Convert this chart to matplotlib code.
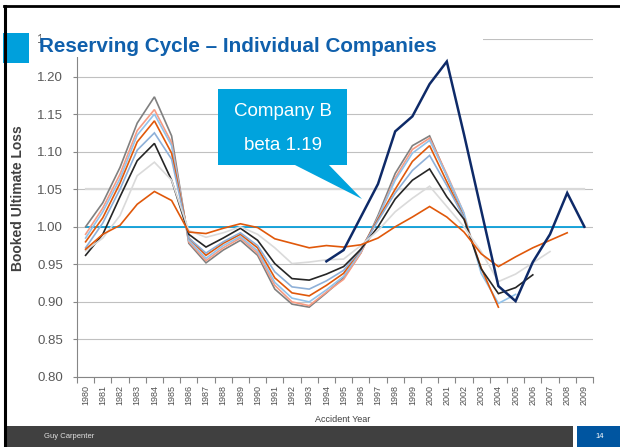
import matplotlib
matplotlib.use("Agg")
import numpy as np
import matplotlib.pyplot as plt
from matplotlib.patches import Rectangle, Polygon

years = list(range(1980, 2010))

# booked ultimate loss by accident year, one list per company (starting 1980 unless noted)
gray = [1.000, 1.032, 1.079, 1.138, 1.173, 1.121, 0.978, 0.952, 0.969, 0.982,
        0.962, 0.917, 0.897, 0.893, 0.912, 0.932, 0.965, 1.015, 1.071, 1.108,
        1.121, 1.068, 1.015]
salmon = [0.990, 1.025, 1.070, 1.128, 1.156, 1.112, 0.980, 0.955, 0.972, 0.985,
          0.965, 0.922, 0.900, 0.895, 0.913, 0.930, 0.965, 1.012, 1.065, 1.103,
          1.118, 1.070, 1.018]
light_blue = [0.985, 1.020, 1.064, 1.122, 1.150, 1.108, 0.982, 0.958, 0.975, 0.987,
              0.968, 0.926, 0.905, 0.900, 0.916, 0.934, 0.967, 1.012, 1.062, 1.098,
              1.115, 1.068, 1.018, 0.938, 0.898, 0.910]
orange = [0.980, 1.012, 1.058, 1.113, 1.141, 1.098, 0.985, 0.962, 0.978, 0.990,
          0.972, 0.932, 0.912, 0.908, 0.922, 0.938, 0.970, 1.010, 1.050, 1.087,
          1.108, 1.060, 1.012, 0.945, 0.893]
steel = [0.972, 1.005, 1.050, 1.102, 1.125, 1.090, 0.985, 0.965, 0.980, 0.992,
         0.975, 0.940, 0.920, 0.917, 0.928, 0.942, 0.970, 1.008, 1.045, 1.075,
         1.095, 1.055, 1.012]
black = [0.962, 0.990, 1.040, 1.088, 1.111, 1.062, 0.990, 0.973, 0.985, 0.998,
         0.982, 0.951, 0.931, 0.929, 0.937, 0.947, 0.970, 1.000, 1.037, 1.062,
         1.077, 1.040, 1.010, 0.944, 0.911, 0.919, 0.936]
light_gray = [0.968, 0.985, 1.015, 1.068, 1.086, 1.062, 0.995, 0.986, 0.992, 1.000,
              0.990, 0.972, 0.951, 0.953, 0.956, 0.957, 0.975, 0.995, 1.020, 1.038,
              1.054, 1.027, 1.000, 0.967, 0.927, 0.937, 0.952, 0.967]
orange_low = [0.970, 0.990, 1.002, 1.030, 1.047, 1.035, 0.993, 0.991, 0.998, 1.004,
              0.999, 0.984, 0.978, 0.972, 0.975, 0.973, 0.976, 0.985, 1.000, 1.013,
              1.027, 1.013, 0.993, 0.964, 0.947, 0.960, 0.972, 0.982, 0.992]
# Company B, 1994-2009
company_b = [0.954, 0.969, 1.013, 1.057, 1.127, 1.147, 1.190, 1.220, 1.123, 1.022,
             0.921, 0.901, 0.953, 0.990, 1.045, 1.000]
company_b_start = 1994

baseline = [1.00] * len(years)
upper_ref = [1.05] * len(years)

yticks = [0.80, 0.85, 0.90, 0.95, 1.00, 1.05, 1.10, 1.15, 1.20, 1.25]

plt.rcParams["font.family"] = ["Liberation Sans", "DejaVu Sans"]

W, H = 620, 447
fig = plt.figure(figsize=(W / 100, H / 100), dpi=100)
fig.patch.set_facecolor("white")
ax = fig.add_axes([77 / W, 1 - 377 / H, 516 / W, 338 / H])

x = np.arange(len(years))


def plot_series(vals, color, lw=1.2, start=1980, z=2):
    xs = np.arange(len(vals)) + (start - 1980)
    ax.plot(xs, vals, color=color, lw=lw, zorder=z, solid_joinstyle="miter")


plot_series(upper_ref, "#D9D9D9", lw=1.6, z=1.5)
plot_series(baseline, "#0A9ED9", lw=1.3, z=1.6)
plot_series(gray, "#808080")
plot_series(salmon, "#F79B82")
plot_series(light_blue, "#92C2EA")
plot_series(orange, "#E0580A")
plot_series(steel, "#8EB0D8")
plot_series(black, "#262626")
plot_series(light_gray, "#DADADA")
plot_series(orange_low, "#E0580A")
plot_series(company_b, "#0E2A68", lw=1.8, start=company_b_start, z=3)

ax.set_xlim(-0.5, len(years) - 0.5)
ax.set_ylim(0.80, 1.25)
ax.set_yticks(yticks)
ax.set_yticklabels(["%.2f" % v for v in yticks])
ax.set_xticks(x)
ax.set_xticklabels([str(y) for y in years], rotation=90)
ax.set_xticks(np.arange(len(years) + 1) - 0.5, minor=True)
ax.tick_params(axis="x", which="major", length=0, pad=6, labelsize=6.5, labelcolor="#505050")
ax.tick_params(axis="x", which="minor", length=4, color="#868686", width=0.8)
ax.tick_params(axis="y", length=3, color="#868686", width=0.8, pad=7, labelsize=9.5,
               labelcolor="#595959")
ax.grid(axis="y", color="#C0C0C0", lw=0.8, zorder=0)
ax.set_axisbelow(True)
for side in ["top", "right"]:
    ax.spines[side].set_visible(False)
for side in ["left", "bottom"]:
    ax.spines[side].set_color("#868686")
    ax.spines[side].set_linewidth(0.8)

fig.text(18 / W, 1 - 198 / H, "Booked Ultimate Loss", rotation=90, ha="center", va="center",
         fontsize=10, fontweight="bold", color="#404040")
fig.text(343 / W, 1 - 419 / H, "Accident Year", ha="center", va="center",
         fontsize=6.5, color="#404040")

# slide decorations in pixel coordinates
ov = fig.add_axes([0, 0, 1, 1], zorder=10)
ov.set_xlim(0, W)
ov.set_ylim(H, 0)
ov.axis("off")

ov.add_patch(Rectangle((41, 18), 442, 39, facecolor="white", edgecolor="none"))
ov.add_patch(Rectangle((3, 33), 26, 30, facecolor="#00A0DC", edgecolor="none"))
ov.text(39, 52, "Reserving Cycle \u2013 Individual Companies", fontsize=14.9,
        fontweight="bold", color="#1060AC", ha="left", va="baseline")

# callout
callout = "#00A3DD"
ov.add_patch(Rectangle((218, 89), 129, 76, facecolor=callout, edgecolor="none"))
ov.add_patch(Polygon([(293, 164), (328, 164), (362, 199)], closed=True,
                     facecolor=callout, edgecolor="none"))
ov.text(282.5, 111, "Company B", fontsize=13.5, color="white", ha="center", va="center")
ov.text(282.5, 146, "beta 1.19", fontsize=13.5, color="white", ha="center", va="center")

# frame and footer
ov.plot([4, W], [6, 6], color="black", lw=2)
ov.plot([5, 5], [6, H], color="black", lw=2.2)
ov.add_patch(Rectangle((6, 426), 567, 21, facecolor="#404040", edgecolor="none"))
ov.add_patch(Rectangle((577, 426), 43, 21, facecolor="#0055A0", edgecolor="none"))
ov.text(44, 437, "Guy Carpenter", fontsize=5.5, color="#E0E0E0", ha="left", va="center")
ov.text(600, 437, "14", fontsize=5.5, color="white", ha="center", va="center")

fig.savefig("out.png", dpi=100)
